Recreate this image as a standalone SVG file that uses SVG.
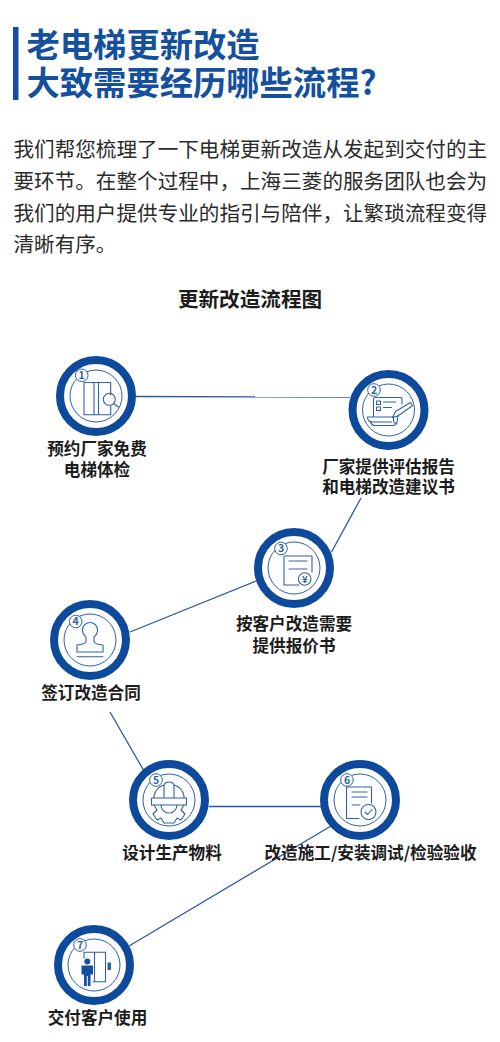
<svg xmlns="http://www.w3.org/2000/svg" width="500" height="1042" viewBox="0 0 500 1042">
<style>
text{font-family:"Noto Sans CJK SC","Noto Sans",sans-serif}
.title{font-size:33.300px;font-weight:700;fill:#14509e}
.body{font-size:20.600px;fill:#2b2b2b}
.head{font-size:20.600px;font-weight:700;fill:#1c1c1c;text-anchor:middle}
.lab{font-size:16.600px;font-weight:700;fill:#1c1c1c;text-anchor:middle}
.ring{fill:#fff;stroke:#0d4a9c;stroke-width:8}
.inner{fill:#fff;stroke:#2f62a4;stroke-width:1}
.ic{fill:none;stroke:#2f62a4;stroke-width:1.100;stroke-linejoin:round;stroke-linecap:round}
.badge{fill:#fff;stroke:#2f62a4;stroke-width:1}
.num{font-size:10.500px;font-weight:700;fill:#2f62a4;text-anchor:middle}
.con{fill:none;stroke:#2a5a9c;stroke-width:1.300}
</style>
<rect width="500" height="1042" fill="#fff"/>
<g id="header">
<rect x="13" y="27" width="5.500" height="73" fill="#14509e"/>
<text class="title" x="26.500" y="57">老电梯更新改造</text>
<text class="title" x="26.500" y="94.500">大致需要经历哪些流程?</text>
<text class="body" x="13.500" y="157">我们帮您梳理了一下电梯更新改造从发起到交付的主</text>
<text class="body" x="13.500" y="189">要环节。在整个过程中，上海三菱的服务团队也会为</text>
<text class="body" x="13.500" y="221">我们的用户提供专业的指引与陪伴，让繁琐流程变得</text>
<text class="body" x="13.500" y="252">清晰有序。</text>
<text class="head" x="250" y="306.500">更新改造流程图</text>
</g>
<g id="connectors">
<path class="con" d="M136 396.500L350 397"/>
<path class="con" d="M361 498L331.500 552"/>
<path class="con" d="M256 581L130 632"/>
<path class="con" d="M110 712L144 771"/>
<path class="con" d="M209 806.500L322 806.500"/>
<path class="con" d="M331 826L129 946"/>
</g>
<g id="node1" transform="translate(96 396)">
<circle class="ring" r="36"/><circle class="inner" r="26"/>
<path class="ic" d="M14.700 -1V-13.500H-12V18.700H14.700V10M-2 -13.500V18.700M2.500 -13.500V18.700"/>
<circle class="ic" cx="13.300" cy="3.300" r="6"/><path class="ic" d="M17.500 7.500L22.500 11"/>
<circle class="badge" cx="-14.300" cy="-20.700" r="6.300"/><text class="num" x="-14.300" y="-17">1</text>
<text class="lab" x="1" y="59">预约厂家免费</text><text class="lab" x="1" y="80">电梯体检</text>
</g>
<g id="node2" transform="translate(388.500 410)">
<circle class="ring" r="36"/><circle class="inner" r="26"/>
<path class="ic" d="M-15 6V-11Q-15 -12.500 -13 -12.500H12Q13.500 -12.500 13.500 -10V-6M9.500 5L8.500 12Q8 15.500 4 15.500H-13Q-17 15.500 -18 12M-21 7H5V10Q5 14 8.500 13M-21 7Q-21 12 -16 12H3"/>
<path class="ic" d="M22 -7.500L7 1.500L4 7.500L9.500 6L24 -4.500Z"/>
<path class="ic" d="M-12 -9H-8V-5.500H-12ZM-12 -3H-8V.5H-12ZM-5 -8H7M-5 -2.500H3"/>
<circle class="badge" cx="-14.500" cy="-20" r="6.300"/><text class="num" x="-14.500" y="-16.200">2</text>
<text class="lab" y="63">厂家提供评估报告</text><text class="lab" y="83">和电梯改造建议书</text>
</g>
<g id="node3" transform="translate(294 568)">
<circle class="ring" r="36"/><circle class="inner" r="26"/>
<path class="ic" d="M5 17H-10V-12H18V4M-5 -7H13M-5 1H13"/>
<circle class="ic" cx="10.700" cy="11" r="6.300"/>
<text x="10.700" y="14.500" font-size="9.500" font-weight="700" fill="#2f62a4" text-anchor="middle">¥</text>
<circle class="badge" cx="-13" cy="-19.500" r="6.300"/><text class="num" x="-13" y="-15.700">3</text>
<text class="lab" x="0" y="62">按客户改造需要</text><text class="lab" x="0" y="84">提供报价书</text>
</g>
<g id="node4" transform="translate(90 640)">
<circle class="ring" r="36"/><circle class="inner" r="26"/>
<path class="ic" d="M-4 -3Q-7.500 -6 -7.500 -10A7.500 7.500 0 0 1 7.500 -10Q7.500 -6 4 -3V1.500Q4 4 13 5V12H-13V5Q-4 4 -4 1.500ZM-13 16.700H13"/>
<circle class="badge" cx="-14.300" cy="-18.500" r="6.300"/><text class="num" x="-14.300" y="-14.700">4</text>
<text class="lab" x="1" y="59">签订改造合同</text>
</g>
<g id="node5" transform="translate(169 800)">
<circle class="ring" r="36"/><circle class="inner" r="26"/>
<path class="ic" d="M-15 -2V-4Q-13 -13 -5 -15V-2M-5 -15Q-4 -18 0 -18Q4 -18 5 -15V-2M5 -15Q13 -13 15 -4V-2M-17.500 -2H17.500V5H-17.500Z"/>
<path class="ic" d="M-8 5A8 8 0 0 0 8 5M-15 5L-12 10L-16 14L-12 20L-8 18L-5 23H5L8 18L12 20L16 14L12 10L15 5"/>
<circle class="badge" cx="-13" cy="-20" r="6.300"/><text class="num" x="-13" y="-16.200">5</text>
<text class="lab" x="3" y="59">设计生产物料</text>
</g>
<g id="node6" transform="translate(360 800)">
<circle class="ring" r="36"/><circle class="inner" r="26"/>
<path class="ic" d="M-1 18.500H-13.500V-13H11.500V3M-8 -8H7M-8 -3H7M-8 5H0"/>
<circle class="ic" cx="8.500" cy="12" r="7.500"/><path class="ic" d="M5 12L7.500 14.500L12 9.500"/>
<circle class="badge" cx="-13" cy="-20" r="6.300"/><text class="num" x="-13" y="-16.200">6</text>
<text class="lab" x="10.500" y="59">改造施工/安装调试/检验验收</text>
</g>
<g id="node7" transform="translate(94 965)">
<circle class="ring" r="36"/><circle class="inner" r="26"/>
<path class="ic" d="M-10 -7V-12.700H11.500V16.700H-1M0.500 -12.700V16.700"/>
<rect x="13.500" y="-2.500" width="3.500" height="7.500" fill="#2f62a4"/>
<circle cx="-6.700" cy="-3.500" r="3" fill="#14509e"/>
<path fill="#14509e" d="M-12.500 0.500H-1V9.500H-3.500V21H-6.200V11H-7.200V21H-10V9.500H-12.500Z"/>
<circle class="badge" cx="-14" cy="-20" r="6.300"/><text class="num" x="-14" y="-16.200">7</text>
<text class="lab" x="3.500" y="59">交付客户使用</text>
</g>
</svg>
